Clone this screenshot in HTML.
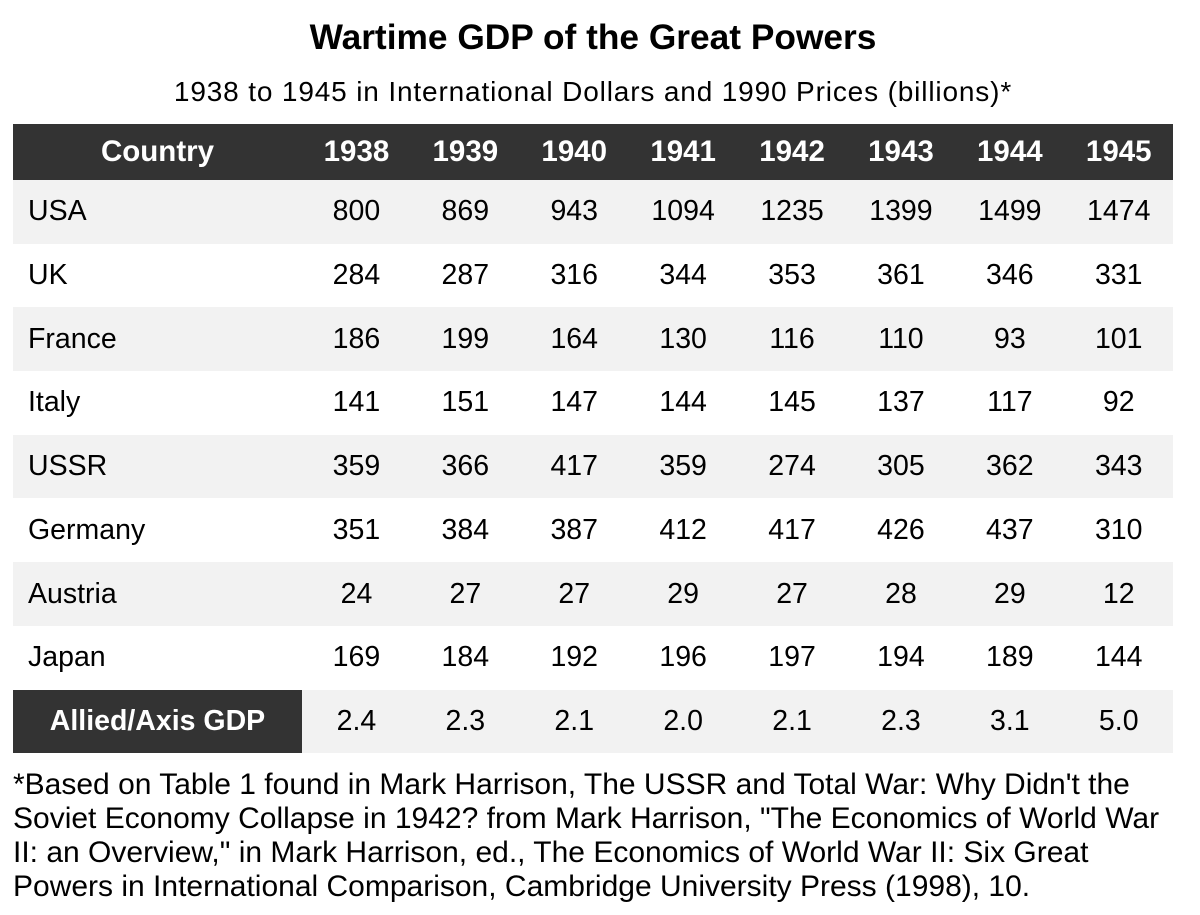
<!DOCTYPE html>
<html><head><meta charset="utf-8"><style>
body{margin:0;width:1200px;height:915px;background:#fff;font-family:"Liberation Sans",Arial,sans-serif;color:#000;position:relative;overflow:hidden}
.a{position:absolute;white-space:nowrap}
#title{left:0;width:1186px;text-align:center;top:18px;font-size:35.3px;font-weight:bold}
#sub{left:0;width:1186px;text-align:center;top:76px;font-size:28px;letter-spacing:0.85px}
.row{position:absolute;left:13px;width:1160px;height:64px}
.cell{position:absolute;top:0;height:100%;display:flex;align-items:center;justify-content:center;font-size:28.5px}
#foot{left:13px;top:768px;font-size:30px;line-height:34px}
</style></head><body>
<div class="a" id="title">Wartime GDP of the Great Powers</div>
<div class="a" id="sub">1938 to 1945 in International Dollars and 1990 Prices (billions)*</div>
<div id="table"></div>
<div class="a" id="foot">*Based on Table 1 found in Mark Harrison, The USSR and Total War: Why Didn't the<br>Soviet Economy Collapse in 1942? from Mark Harrison, "The Economics of World War<br>II: an Overview," in Mark Harrison, ed., The Economics of World War II: Six Great<br>Powers in International Comparison, Cambridge University Press (1998), 10.</div>
<script>
const years=["1938","1939","1940","1941","1942","1943","1944","1945"];
const countries=["USA","UK","France","Italy","USSR","Germany","Austria","Japan"];
const usa=[800,869,943,1094,1235,1399,1499,1474];
const uk=[284,287,316,344,353,361,346,331];
const france=[186,199,164,130,116,110,93,101];
const italy=[141,151,147,144,145,137,117,92];
const ussr=[359,366,417,359,274,305,362,343];
const germany=[351,384,387,412,417,426,437,310];
const austria=[24,27,27,29,27,28,29,12];
const japan=[169,184,192,196,197,194,189,144];
const ratio=["2.4","2.3","2.1","2.0","2.1","2.3","3.1","5.0"];
const series=[usa,uk,france,italy,ussr,germany,austria,japan];
const T=document.getElementById('table');
const firstW=289,colW=108.9,headTop=124,headH=56,rowH=63.7;
function mkRow(top,h,bg){const r=document.createElement('div');r.className='row';r.style.top=top+'px';r.style.height=h+'px';r.style.background=bg;T.appendChild(r);return r;}
function mkCell(r,x,w,txt,st){const c=document.createElement('div');c.className='cell';c.style.left=x+'px';c.style.width=w+'px';c.textContent=txt;Object.assign(c.style,st||{});r.appendChild(c);return c;}
let h=mkRow(headTop,headH,'#333');


let hc=mkCell(h,0,firstW,'Country',{color:'#fff',fontWeight:'bold',fontSize:'29.5px'});


years.forEach((y,i)=>{const c=mkCell(h,firstW+i*colW,colW,y,{color:'#fff',fontWeight:'bold',fontSize:'29.5px'});

});
countries.forEach((n,k)=>{const r=mkRow(headTop+headH+k*rowH,rowH,k%2==0?'#f2f2f2':'#fff');


const c0=mkCell(r,0,firstW,n,{justifyContent:'flex-start',paddingLeft:'15px',boxSizing:'border-box'});


series[k].forEach((v,i)=>{const c=mkCell(r,firstW+i*colW,colW,String(v));

});});
const lr=mkRow(headTop+headH+8*rowH,rowH,'#f2f2f2');


const lc=mkCell(lr,0,firstW,'Allied/Axis GDP',{background:'#333',color:'#fff',fontWeight:'bold'});


ratio.forEach((v,i)=>{const c=mkCell(lr,firstW+i*colW,colW,v);

});
</script>
</body></html>
